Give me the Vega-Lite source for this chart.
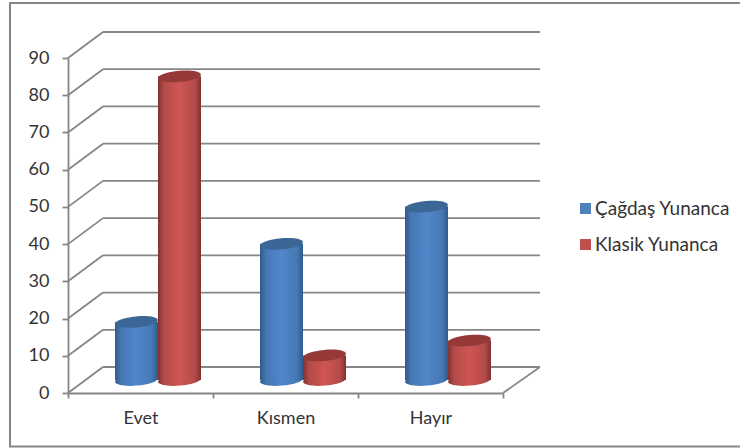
{
  "$schema": "https://vega.github.io/schema/vega-lite/v6.json",
  "width": 435,
  "height": 335,
  "autosize": {"type": "none"},
  "padding": {"left": 68, "top": 58, "right": 237, "bottom": 55},
  "background": "white",
  "view": {"stroke": null},
  "config": {"font": "Lato"},
  "datasets": {
    "answers": [
      {"answer": "Evet", "series": "Çağdaş Yunanca", "percent": 16},
      {"answer": "Evet", "series": "Klasik Yunanca", "percent": 82},
      {"answer": "Kısmen", "series": "Çağdaş Yunanca", "percent": 37},
      {"answer": "Kısmen", "series": "Klasik Yunanca", "percent": 7},
      {"answer": "Hayır", "series": "Çağdaş Yunanca", "percent": 47},
      {"answer": "Hayır", "series": "Klasik Yunanca", "percent": 11}
    ],
    "levels": [
      {"level": 0}, {"level": 10}, {"level": 20}, {"level": 30}, {"level": 40},
      {"level": 50}, {"level": 60}, {"level": 70}, {"level": 80}, {"level": 90}
    ]
  },
  "encoding": {
    "y": {
      "type": "quantitative",
      "scale": {"domain": [0, 90], "nice": false, "zero": false},
      "axis": {
        "title": null, "values": [0, 10, 20, 30, 40, 50, 60, 70, 80, 90], "grid": false,
        "domainColor": "#868686", "domainWidth": 1.8, "tickColor": "#868686", "tickWidth": 1.8, "tickSize": 6,
        "labelPadding": 13, "labelFontSize": 18, "labelColor": "#333333", "labelFont": "Lato"
      }
    }
  },
  "layer": [
    {
      "description": "Outer chart frame, running off the right side of the window",
      "data": {"values": [{}]},
      "mark": {"type": "rect", "fill": null, "stroke": "#868686", "strokeWidth": 2, "clip": false},
      "encoding": {
        "x": {"value": -58},
        "x2": {"value": 690},
        "y": {"value": -55},
        "y2": {"value": 388.5}
      }
    },
    {
      "description": "Back wall gridlines",
      "data": {"name": "levels"},
      "mark": {"type": "rule", "color": "#868686", "strokeWidth": 1.8, "xOffset": 35, "x2Offset": 37, "yOffset": -26, "y2Offset": -26},
      "encoding": {
        "x": {"value": 0},
        "x2": {"value": {"expr": "width"}},
        "y": {"field": "level"}
      }
    },
    {
      "description": "Side wall gridlines",
      "data": {"name": "levels"},
      "mark": {"type": "rule", "color": "#868686", "strokeWidth": 1.8, "x2Offset": 35, "y2Offset": -26},
      "encoding": {
        "x": {"value": 0},
        "x2": {"value": 0},
        "y": {"field": "level"},
        "y2": {"field": "level"}
      }
    },
    {
      "description": "Right edge of the floor",
      "data": {"values": [{"level": 0}]},
      "mark": {"type": "rule", "color": "#868686", "strokeWidth": 1.8, "x2Offset": 37, "y2Offset": -26},
      "encoding": {
        "x": {"value": {"expr": "width"}},
        "x2": {"value": {"expr": "width"}},
        "y": {"field": "level"},
        "y2": {"field": "level"}
      }
    },
    {
      "description": "Flat series colours, hidden behind the shaded cylinders, carry the legend",
      "data": {"name": "answers"},
      "mark": {"type": "bar", "width": 30, "yOffset": -10, "y2Offset": -13},
      "encoding": {
        "x": {
          "field": "answer", "type": "nominal",
          "scale": {"domain": ["Evet", "Kısmen", "Hayır"], "paddingInner": 0, "paddingOuter": 0},
          "axis": {
            "title": null, "labelAngle": 0, "tickBand": "extent", "domainColor": "#868686", "domainWidth": 1.8,
            "tickColor": "#868686", "tickWidth": 1.8, "tickSize": 5, "labelPadding": 11,
            "labelFontSize": 18, "labelColor": "#333333", "labelFont": "Lato"
          }
        },
        "xOffset": {
          "field": "series", "type": "nominal",
          "scale": {"type": "point", "padding": 0, "domain": ["Çağdaş Yunanca", "Klasik Yunanca"], "range": [68.5, 111.5]}
        },
        "y": {"field": "percent", "type": "quantitative", "stack": null},
        "y2": {"datum": 0},
        "color": {
          "field": "series", "type": "nominal",
          "scale": {"domain": ["Çağdaş Yunanca", "Klasik Yunanca"], "range": ["#4F81BD", "#C0504D"]},
          "legend": {
            "title": null, "orient": "none", "legendX": 508, "legendY": 141, "symbolType": "square", "symbolSize": 121,
            "symbolStrokeWidth": 0, "labelFontSize": 19, "labelColor": "#333333", "labelFont": "Lato",
            "labelOffset": 0, "rowPadding": 16, "padding": 0
          }
        }
      }
    },
    {
      "description": "Blue cylinders",
      "data": {"name": "answers"},
      "transform": [{"filter": "datum.series === 'Çağdaş Yunanca'"}],
      "layer": [
        {
          "mark": {
            "type": "point", "filled": true, "opacity": 1, "size": 1849, "xOffset": -4, "yOffset": -13, "angle": -5,
            "shape": "M -1 0 A 1 0.26 0 1 1 1 0 A 1 0.26 0 1 1 -1 0 Z",
            "fill": {"gradient": "linear", "x1": 0, "y1": 0, "x2": 1, "y2": 0, "stops": [
              {"offset": 0, "color": "#305A8A"}, {"offset": 0.14, "color": "#4778B3"}, {"offset": 0.5, "color": "#5186CA"},
              {"offset": 0.86, "color": "#4778B3"}, {"offset": 1, "color": "#305A8A"}]}
          },
          "encoding": {"x": {"field": "answer", "type": "nominal"}, "y": {"datum": 0}}
        },
        {
          "mark": {
            "type": "bar", "width": 43, "xOffset": -4, "yOffset": -11.5, "y2Offset": -13,
            "fill": {"gradient": "linear", "x1": 0, "y1": 0, "x2": 1, "y2": 0, "stops": [
              {"offset": 0, "color": "#305A8A"}, {"offset": 0.14, "color": "#4778B3"}, {"offset": 0.5, "color": "#5186CA"},
              {"offset": 0.86, "color": "#4778B3"}, {"offset": 1, "color": "#305A8A"}]}
          },
          "encoding": {"x": {"field": "answer", "type": "nominal"}, "y": {"field": "percent", "type": "quantitative", "stack": null}, "y2": {"datum": 0}}
        },
        {
          "mark": {
            "type": "point", "filled": true, "opacity": 1, "size": 1849, "xOffset": -4, "yOffset": -11.5, "angle": -5,
            "shape": "M -1 0 A 1 0.26 0 1 1 1 0 A 1 0.26 0 1 1 -1 0 Z", "fill": "#3C6695"
          },
          "encoding": {"x": {"field": "answer", "type": "nominal"}, "y": {"field": "percent", "type": "quantitative"}}
        }
      ]
    },
    {
      "description": "Red cylinders",
      "data": {"name": "answers"},
      "transform": [{"filter": "datum.series === 'Klasik Yunanca'"}],
      "layer": [
        {
          "mark": {
            "type": "point", "filled": true, "opacity": 1, "size": 1849, "xOffset": 39, "yOffset": -13, "angle": -5,
            "shape": "M -1 0 A 1 0.26 0 1 1 1 0 A 1 0.26 0 1 1 -1 0 Z",
            "fill": {"gradient": "linear", "x1": 0, "y1": 0, "x2": 1, "y2": 0, "stops": [
              {"offset": 0, "color": "#7F3230"}, {"offset": 0.14, "color": "#B34B49"}, {"offset": 0.5, "color": "#CF5553"},
              {"offset": 0.86, "color": "#B34B49"}, {"offset": 1, "color": "#7F3230"}]}
          },
          "encoding": {"x": {"field": "answer", "type": "nominal"}, "y": {"datum": 0}}
        },
        {
          "mark": {
            "type": "bar", "width": 43, "xOffset": 39, "yOffset": -11.5, "y2Offset": -13,
            "fill": {"gradient": "linear", "x1": 0, "y1": 0, "x2": 1, "y2": 0, "stops": [
              {"offset": 0, "color": "#7F3230"}, {"offset": 0.14, "color": "#B34B49"}, {"offset": 0.5, "color": "#CF5553"},
              {"offset": 0.86, "color": "#B34B49"}, {"offset": 1, "color": "#7F3230"}]}
          },
          "encoding": {"x": {"field": "answer", "type": "nominal"}, "y": {"field": "percent", "type": "quantitative", "stack": null}, "y2": {"datum": 0}}
        },
        {
          "mark": {
            "type": "point", "filled": true, "opacity": 1, "size": 1849, "xOffset": 39, "yOffset": -11.5, "angle": -5,
            "shape": "M -1 0 A 1 0.26 0 1 1 1 0 A 1 0.26 0 1 1 -1 0 Z", "fill": "#953A39"
          },
          "encoding": {"x": {"field": "answer", "type": "nominal"}, "y": {"field": "percent", "type": "quantitative"}}
        }
      ]
    }
  ]
}
